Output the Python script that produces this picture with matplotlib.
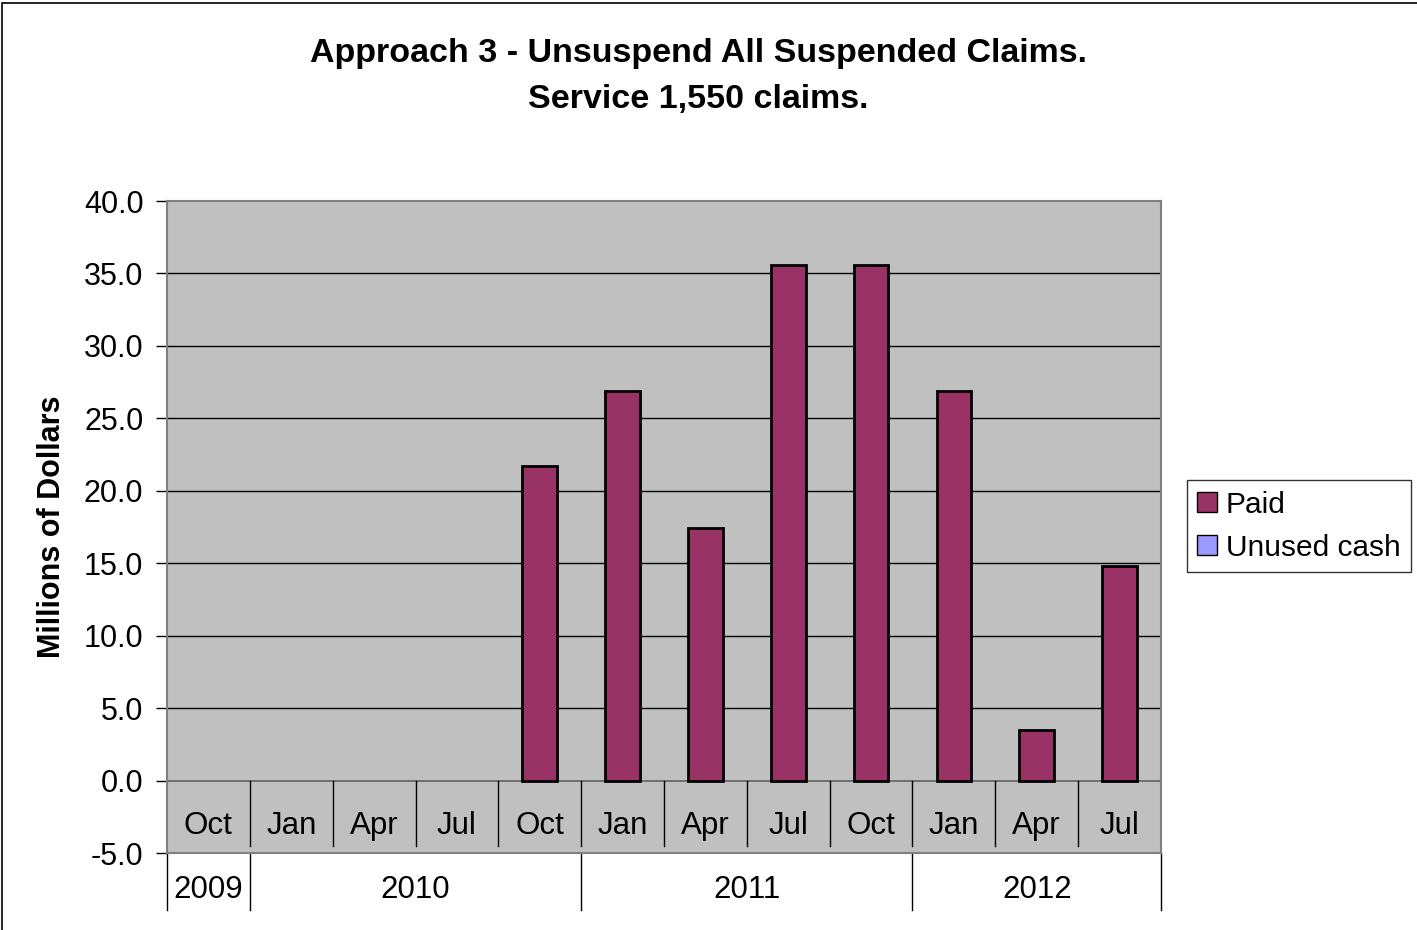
import matplotlib.pyplot as plt
import numpy as np
from matplotlib.patches import Patch, Rectangle

plt.rcParams['font.family'] = ['Liberation Sans', 'DejaVu Sans']

# -------------------------
# Data
# -------------------------
months = ['Oct', 'Jan', 'Apr', 'Jul', 'Oct', 'Jan', 'Apr', 'Jul', 'Oct', 'Jan', 'Apr', 'Jul']
years = ['2009', '2010', '2011', '2012']
year_spans = [1, 4, 4, 3]  # number of quarters under each year
paid = [0, 0, 0, 0, 21.7, 26.9, 17.4, 35.6, 35.6, 26.9, 3.5, 14.8]
unused_cash = [0] * 12

PAID_COLOR = '#993366'
UNUSED_COLOR = '#9999FF'

# -------------------------
# Figure
# -------------------------
fig = plt.figure(figsize=(14.17, 9.30), dpi=100)
ax = fig.add_axes([167 / 1417, 77 / 930, 994 / 1417, 652 / 930])

# outer chart border (right/bottom edges fall outside the image)
fig.patches.append(Rectangle((2 / 1417, -0.01), 1.05, 1.007, transform=fig.transFigure,
                             fill=False, edgecolor='black', linewidth=1.2))

n = len(months)
x = np.arange(n)
ax.set_facecolor('#C0C0C0')
ax.set_xlim(-0.5, n - 0.5)
ax.set_ylim(-5, 40)

# gridlines
for v in range(5, 40, 5):
    ax.axhline(v, color='black', linewidth=1, zorder=1)
ax.axhline(0, color='#606060', linewidth=1.2, zorder=1)

nz = [i for i, v in enumerate(paid) if v > 0]
ax.bar(x[nz], [paid[i] for i in nz], width=0.42, color=PAID_COLOR,
       edgecolor='black', linewidth=2, zorder=3)

# category separators inside the plot (below zero)
for b in np.arange(0.5, n - 0.5, 1):
    ax.plot([b, b], [0, -4.5], color='black', linewidth=1, zorder=2)

# month labels
for xi, m in zip(x, months):
    ax.text(xi, -3.15, m, ha='center', va='center', fontsize=22.5)

# year row below axes
trans = ax.get_xaxis_transform()
edges = np.concatenate([[0], np.cumsum(year_spans)]) - 0.5
for e in edges:
    ax.plot([e, e], [0, -0.088], color='black', linewidth=1, transform=trans, clip_on=False)
for yr, a, b in zip(years, edges[:-1], edges[1:]):
    ax.text((a + b) / 2, -0.056, yr, ha='center', va='center', fontsize=22.5, transform=trans)

ax.set_xticks([])
ax.set_yticks(np.arange(-5, 41, 5))
ax.set_yticklabels([f'{v:.1f}' for v in np.arange(-5, 41, 5)], fontsize=22)
ax.tick_params(axis='y', length=8, width=1, color='black', pad=9)
for s in ax.spines.values():
    s.set_color('#808080')
    s.set_linewidth(1.5)

ax.set_ylabel('Millions of Dollars', fontsize=22, fontweight='bold', labelpad=12)

fig.text(0.493, 0.943, 'Approach 3 - Unsuspend All Suspended Claims.', ha='center', va='center',
         fontsize=24.5, fontweight='bold')
fig.text(0.493, 0.893, 'Service 1,550 claims.', ha='center', va='center',
         fontsize=24.5, fontweight='bold')

handles = [Patch(facecolor=PAID_COLOR, edgecolor='black', label='Paid'),
           Patch(facecolor=UNUSED_COLOR, edgecolor='black', label='Unused cash')]
leg = fig.legend(handles=handles, loc='center left', bbox_to_anchor=(1187 / 1417, 0.434),
                 fontsize=21.5, frameon=True, fancybox=False, handlelength=0.65, handleheight=0.65,
                 handletextpad=0.3, borderpad=0.35, labelspacing=0.5, borderaxespad=0)
leg.get_frame().set_edgecolor('black')
leg.get_frame().set_linewidth(1)

fig.savefig('out.png', dpi=100)
